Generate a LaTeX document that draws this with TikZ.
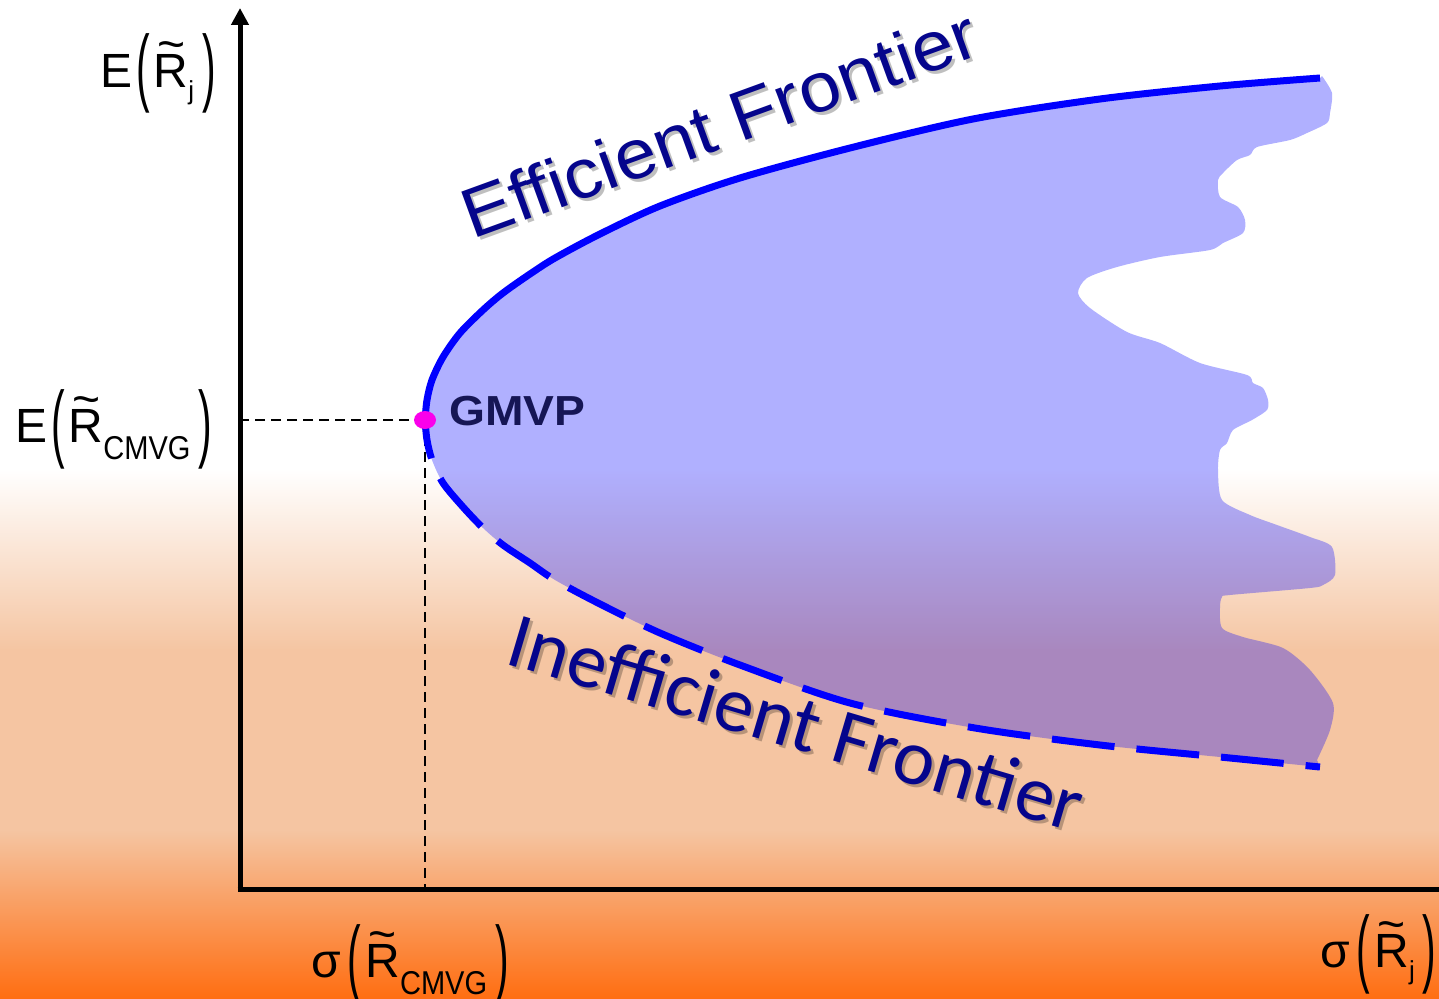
\documentclass[tikz,border=0pt]{standalone}
\usepackage{fontspec}
\usepackage{graphicx}
\setmainfont{Liberation Sans}
\newfontfamily\calfont{Carlito}
\usetikzlibrary{arrows.meta,shapes.geometric}

\definecolor{peach}{RGB}{245,197,162}
\definecolor{deeporange}{RGB}{255,110,18}
\definecolor{textnavy}{RGB}{5,5,140}
\definecolor{gmvpnavy}{RGB}{22,22,85}
\definecolor{gmvpdot}{RGB}{250,0,235}

% tall thin parentheses and a tilde-topped R for the axis labels
\newcommand\tallp[1]{\raisebox{-9pt}{\scalebox{0.85}[1.78]{#1}}}
\newcommand\Rtil{\makebox[0pt][l]{\hspace{0.07em}\raisebox{0.55em}{\textasciitilde}}R}
\newcommand\subj{\raisebox{-12pt}{\fontsize{26}{26}\selectfont j}}
\newcommand\subcmvg{\raisebox{-17pt}{\scalebox{0.88}[1]{\fontsize{33}{33}\selectfont CMVG}}}

\begin{document}
\begin{tikzpicture}[x=1pt,y=-1pt,
  axisline/.style={line width=5pt,black},
  guide/.style={line width=1.8pt,black,dash pattern=on 10pt off 6pt},
  frontier/.style={line width=7pt,blue},
  ineff/.style={line width=7pt,blue,dash pattern=on 63pt off 22pt,dash phase=24pt},
  axlabel/.style={inner sep=0pt,anchor=base west,font=\fontsize{48}{48}\selectfont},
  bigtitle/.style={inner sep=0pt,anchor=base west,text=textnavy},
  shadowtxt/.style={inner sep=0pt,anchor=base west,text=black,opacity=0.25}]

\useasboundingbox (0,0) rectangle (1439,998);

% background bands
\fill[white] (0,0) rectangle (1439,470);
\shade[top color=white,bottom color=peach] (0,469) rectangle (1439,650);
\fill[peach] (0,649) rectangle (1439,831);
\shade[top color=peach,bottom color=deeporange] (0,830) rectangle (1439,998);

% feasible region
\fill[blue,opacity=0.31]
  plot[smooth] coordinates {(1320,78) (1220,86) (1100,99) (973,119) (850,148) (740,178)
    (660,206) (600,234) (555,258) (530,274) (503,293) (483,310) (460,333) (443,357)
    (432,380) (427,400) (425,420) (427,440) (432,460) (443,483) (463,507) (483,528)
    (503,545) (530,563) (555,580) (600,604) (660,633) (740,665) (850,703) (975,728)
    (1100,745) (1220,757) (1320,767)}
  -- plot[smooth,tension=0.45] coordinates {(1317,760) (1330,730) (1333,703) (1310,670)
    (1283,648) (1243,637) (1222,628) (1220,607) (1222,597) (1230,595) (1310,588)
    (1323,585) (1335,575) (1332,547) (1310,537) (1277,525) (1250,515) (1222,500)
    (1218,470) (1220,450) (1227,443) (1233,430) (1252,420) (1267,410) (1268,400)
    (1263,388) (1253,383) (1247,375) (1200,363) (1160,343) (1127,332) (1090,308)
    (1078,293) (1087,278) (1117,267) (1160,257) (1210,250) (1223,243) (1243,233)
    (1245,220) (1238,207) (1220,197) (1218,180) (1223,173) (1237,160) (1250,155)
    (1257,147) (1290,140) (1307,133) (1327,123) (1330,113) (1332,93) (1322,76)}
  -- cycle;

% axes
\coordinate (O) at (240,889);
\coordinate (ytop) at (240,8);
\coordinate (xend) at (1439,889);
\coordinate (GP) at (425,420);
\draw[guide] (GP) -- (GP -| O);
\draw[guide] (GP) -- (GP |- O);
\draw[axisline,-{Triangle[length=17pt,width=17pt]}] (240,891.5) -- (ytop);
\draw[axisline] (237.5,889) -- (xend);

% frontier branches
\draw[frontier] plot[smooth] coordinates {(425,420) (427,400) (432,380) (443,357)
  (460,333) (483,310) (503,293) (530,274) (555,258) (600,234) (660,206) (740,178)
  (850,148) (973,119) (1100,99) (1220,86) (1320,78)};
\draw[ineff] plot[smooth] coordinates {(425,420) (427,440) (432,460) (443,483)
  (463,507) (483,528) (503,545) (530,563) (555,580) (600,604) (660,633) (740,665)
  (850,703) (975,728) (1100,745) (1220,757) (1320,767)};

% minimum-variance point
\node[ellipse,fill=gmvpdot,minimum width=22pt,minimum height=18pt,inner sep=0pt] (gmvp) at (GP) {};
\node[inner sep=0pt,anchor=base west,text=gmvpnavy] (gmvplabel) at (449,425)
  {\scalebox{1.1}[1]{\fontsize{42}{42}\selectfont\bfseries GMVP}};

% frontier captions
\node[shadowtxt,rotate=20] at (475,243)
  {\scalebox{1.07}[1]{\fontsize{70}{70}\selectfont Efficient Frontier}};
\node[bigtitle,rotate=20] (efftext) at (472,240)
  {\scalebox{1.07}[1]{\fontsize{70}{70}\selectfont Efficient Frontier}};
\node[shadowtxt,rotate=-16.5] at (506,666)
  {\calfont\fontsize{79}{79}\selectfont Inefficient Frontier};
\node[bigtitle,rotate=-16.5] (inefftext) at (503,663)
  {\calfont\fontsize{79}{79}\selectfont Inefficient Frontier};

% axis labels
\node[axlabel] (ylab) at (100,87) {E\hspace{4pt}\tallp{(}\hspace{4pt}\Rtil\subj\hspace{8pt}\tallp{)}};
\node[axlabel] (ymid) at (15,442) {E\hspace{4pt}\tallp{(}\hspace{4pt}\Rtil\subcmvg\hspace{8pt}\tallp{)}};
\node[axlabel] (xmid) at (311,977) {σ\hspace{7pt}\tallp{(}\hspace{4pt}\Rtil\subcmvg\hspace{8pt}\tallp{)}};
\node[axlabel] (xlab) at (1320,967) {σ\hspace{7pt}\tallp{(}\hspace{4pt}\Rtil\subj\hspace{8pt}\tallp{)}};
\end{tikzpicture}
\end{document}
